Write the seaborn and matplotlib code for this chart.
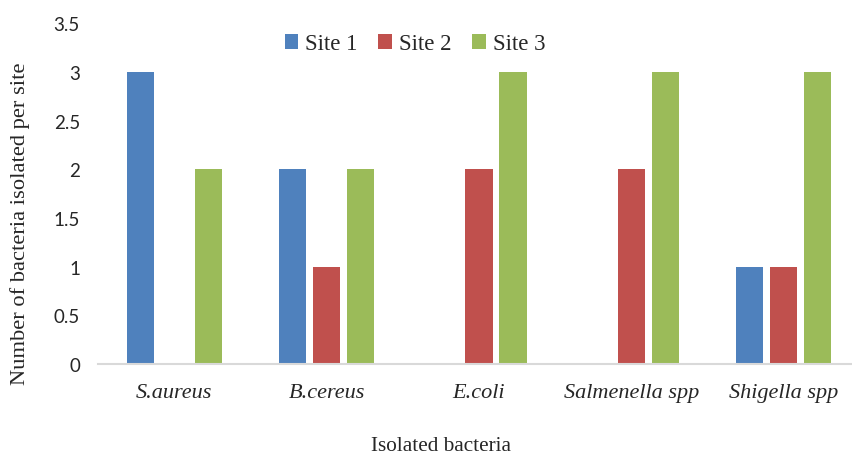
import matplotlib
matplotlib.use("Agg")
import matplotlib.pyplot as plt
import seaborn as sns
import pandas as pd

categories = ["S.aureus", "B.cereus", "E.coli", "Salmenella spp", "Shigella spp"]
sites = ["Site 1", "Site 2", "Site 3"]
site1 = [3, 2, 0, 0, 1]
site2 = [0, 1, 2, 2, 1]
site3 = [2, 2, 3, 3, 3]
yticks = [0, 0.5, 1, 1.5, 2, 2.5, 3, 3.5]
colors = ["#4F81BD", "#C0504D", "#9BBB59"]

df = pd.DataFrame({
    "bacteria": categories * 3,
    "site": [s for s in sites for _ in categories],
    "count": site1 + site2 + site3,
})

sns.set_theme(style="white")
serif = ["Liberation Serif", "DejaVu Serif"]
plt.rcParams["font.family"] = serif

W, H = 853, 456
fig = plt.figure(figsize=(W / 100, H / 100), dpi=100)
ax = fig.add_axes([98 / W, (H - 365) / H, (W - 98) / W, (365 - 24.3) / H])

sns.barplot(data=df, x="bacteria", y="count", hue="site", hue_order=sites,
            palette=colors, saturation=1, width=0.67, gap=0.2, ax=ax,
            linewidth=0, legend=True)

ax.set_ylim(0, 3.5)
ax.set_xlim(-0.5, -0.5 + (W - 98) / 152.4)
ax.set_yticks(yticks)
ax.set_yticklabels([f"{t:g}" for t in yticks], fontfamily="Lato", fontsize=13.5)
ax.tick_params(axis="y", length=0, pad=13)
ax.tick_params(axis="x", length=0, pad=14)
for lbl in ax.get_xticklabels():
    lbl.set_fontstyle("italic")
    lbl.set_fontsize(16)
    lbl.set_fontfamily(serif)

for side in ["top", "right", "left"]:
    ax.spines[side].set_visible(False)
ax.spines["bottom"].set_color("#D9D9D9")
ax.spines["bottom"].set_linewidth(1.5)

ax.set_xlabel("")
ax.set_ylabel("")
fig.text(441 / W, 1 - 447 / H, "Isolated bacteria", ha="center", va="center",
         fontsize=15.3, family=serif)
fig.text(20 / W, 1 - 224 / H, "Number of bacteria isolated per site", ha="center",
         va="center", rotation=90, fontsize=16.2, family=serif)

ax.legend(loc="center", bbox_to_anchor=(415 / W, 1 - 45 / H),
          bbox_transform=fig.transFigure, ncol=3, frameon=False,
          handlelength=0.6, handleheight=0.6, handletextpad=0.3,
          columnspacing=0.9, prop={"family": serif, "size": 16.5})

fig.savefig("out.png", dpi=100)
